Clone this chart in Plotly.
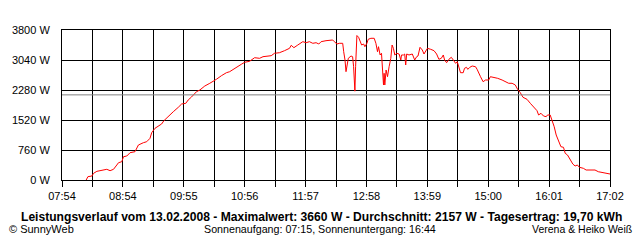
import plotly.graph_objects as go

# ---- data ----
# time in minutes after midnight, power in W
times = [498.2, 499.9, 503.9, 505.6, 508.9, 513.9, 518.8, 522.1, 525.5, 528.8,
         530.5, 533.8, 535.5, 538.8, 542.1, 547.0, 550.4, 555.4, 558.7, 562.0,
         563.7, 567.0, 570.3, 573.6, 575.9, 580.3, 585.3, 590.3, 593.6, 597.8,
         600.2, 603.5, 606.5, 608.5, 611.8, 616.8, 621.8, 625.1, 628.4, 633.4,
         638.4, 641.7, 645.1, 650.1, 653.3, 656.6, 661.6, 666.6, 671.6, 675.0,
         679.9, 683.2, 686.5, 691.5, 696.5, 701.5, 703.2, 705.9, 709.8, 714.8,
         718.1, 721.4, 724.8, 728.1, 730.8, 733.1, 738.0, 744.7, 746.3, 749.0,
         751.3, 754.7, 755.7, 757.0, 758.0, 759.0, 760.3, 763.0, 764.6, 765.6,
         766.2, 766.9, 767.6, 768.2, 768.9, 770.6, 772.2, 773.6, 775.6, 776.9,
         778.9, 780.2, 782.9, 786.2, 787.9, 789.5, 790.5, 792.1, 793.5, 794.5,
         795.5, 796.1, 796.8, 798.1, 799.5, 801.1, 802.8, 804.1, 805.4, 806.8,
         808.8, 811.1, 812.8, 813.5, 815.5, 816.7, 817.7, 818.7, 821.0, 824.3,
         826.7, 828.7, 830.0, 832.0, 834.3, 836.0, 837.7, 839.4, 842.7, 846.0,
         848.6, 850.9, 853.3, 855.3, 856.6, 858.6, 860.9, 863.3, 865.3, 867.6,
         869.3, 870.9, 872.5, 875.2, 876.5, 878.5, 879.8, 881.8, 884.2, 887.5,
         889.1, 892.5, 895.1, 897.5, 900.7, 902.4, 905.7, 909.7, 914.1, 917.4,
         920.7, 924.1, 927.3, 929.6, 931.6, 932.3, 935.0, 939.0, 942.3, 945.6,
         949.0, 950.6, 953.0, 955.5, 958.2, 959.5, 962.2, 963.9, 966.2, 968.2,
         970.5, 972.9, 975.5, 977.2, 979.5, 982.1, 984.8, 987.1, 989.4, 991.4,
         995.4, 998.1, 1007.0, 1010.3, 1017.0, 1020.3, 1022.0]
power = [0, 84, 101, 170, 220, 236, 271, 236, 271, 380,
         438, 464, 590, 608, 692, 717, 887, 945, 970, 1056,
         1198, 1310, 1368, 1419, 1502, 1621, 1730, 1842, 1925, 1943,
         2027, 2103, 2191, 2237, 2280, 2381, 2450, 2490, 2551, 2642,
         2718, 2744, 2804, 2870, 2931, 2982, 3007, 3098, 3083, 3124,
         3149, 3149, 3210, 3225, 3276, 3336, 3412, 3352, 3420, 3504,
         3478, 3504, 3463, 3478, 3445, 3504, 3529, 3547, 3504, 3445,
         3463, 3463, 3250, 3040, 2744, 2956, 3083, 3141, 3124, 2870,
         2617, 2250, 2870, 3293, 3660, 3615, 3504, 3420, 3445, 3377,
         3463, 3564, 3590, 3590, 3463, 3250, 3377, 3167, 3210, 2703,
         2407, 2703, 2407, 2787, 2617, 2870, 3083, 3420, 3336, 3167,
         3210, 3192, 3040, 3167, 3167, 3192, 2913, 3192, 3167, 3192,
         3040, 3124, 3141, 3362, 3293, 3192, 3250, 3336, 3311, 3276,
         3192, 3058, 3083, 3167, 3040, 2972, 3058, 3108, 3040, 2956,
         2997, 2870, 2718, 2718, 2830, 2855, 2804, 2855, 2888, 2870,
         2804, 2617, 2490, 2533, 2533, 2617, 2602, 2576, 2533, 2490,
         2450, 2450, 2407, 2298, 2237, 2212, 2095, 2044, 1943, 1857,
         1756, 1647, 1690, 1621, 1604, 1647, 1647, 1520, 1350, 1140,
         1013, 844, 828, 676, 633, 507, 405, 355, 380, 322,
         296, 253, 253, 210, 185, 170, 152]

x_start, x_end = 474, 1022          # 07:54 .. 17:02
x_tick_labels = ["07:54", "08:54", "09:55", "10:56", "11:57",
                 "12:58", "13:59", "15:00", "16:01", "17:02"]
y_ticks = [0, 760, 1520, 2280, 3040, 3800]
y_tick_labels = ["0 W", "760 W", "1520 W", "2280 W", "3040 W", "3800 W"]

date_str = "13.02.2008"
max_w = 3660
avg_w = 2157
yield_kwh = "19,70"
sunrise, sunset = "07:15", "16:44"

# ---- figure ----
n_int = 18
x_tickvals = [x_start + k * (x_end - x_start) / n_int for k in range(n_int + 1)]
x_ticktext = [x_tick_labels[k // 2] if k % 2 == 0 else "" for k in range(n_int + 1)]

FONT = "Liberation Sans, Arial, sans-serif"

fig = go.Figure()
fig.add_trace(go.Scatter(x=times, y=power, mode="lines",
                         line=dict(color="#ff0000", width=1),
                         hoverinfo="skip", showlegend=False))

fig.add_shape(type="line", xref="paper", x0=0, x1=1, yref="y", y0=avg_w, y1=avg_w,
              line=dict(color="#808080", width=1), layer="above")

fig.update_layout(
    width=640, height=240,
    margin=dict(l=60, r=30, t=30, b=60),
    paper_bgcolor="white", plot_bgcolor="white",
    font=dict(family=FONT, size=11, color="black"),
    showlegend=False,
)
fig.update_xaxes(range=[x_start, x_end], tickmode="array",
                 tickvals=x_tickvals, ticktext=x_ticktext,
                 showgrid=True, gridcolor="black", gridwidth=1,
                 showline=True, mirror=True, linecolor="black", linewidth=1,
                 ticks="outside", ticklen=6, tickcolor="black", tickwidth=1,
                 zeroline=False, tickfont=dict(size=11))
fig.update_yaxes(range=[0, 3800], tickmode="array",
                 tickvals=y_ticks, ticktext=y_tick_labels,
                 showgrid=True, gridcolor="black", gridwidth=1,
                 showline=True, mirror=True, linecolor="black", linewidth=1,
                 ticks="", ticklabelstandoff=9, zeroline=False,
                 tickfont=dict(size=11))

title = (f"Leistungsverlauf vom {date_str} - Maximalwert: {max_w} W - "
         f"Durchschnitt: {avg_w} W - Tagesertrag: {yield_kwh} kWh")
fig.add_annotation(text=f"<b>{title}</b>", xref="paper", yref="paper",
                   x=(320 - 60) / 550, y=(180 - 216.7) / 150,
                   xanchor="center", yanchor="middle", showarrow=False,
                   font=dict(size=12.1))
fig.add_annotation(text="© SunnyWeb", xref="paper", yref="paper",
                   x=(5 - 60) / 550, y=(180 - 228.5) / 150,
                   xanchor="left", yanchor="middle", showarrow=False,
                   font=dict(size=11))
fig.add_annotation(text=f"Sonnenaufgang: {sunrise}, Sonnenuntergang: {sunset}",
                   xref="paper", yref="paper",
                   x=(319 - 60) / 550, y=(180 - 228.5) / 150,
                   xanchor="center", yanchor="middle", showarrow=False,
                   font=dict(size=10.7))
fig.add_annotation(text="Verena &amp; Heiko Weiß", xref="paper", yref="paper",
                   x=(634 - 60) / 550, y=(180 - 228.5) / 150,
                   xanchor="right", yanchor="middle", showarrow=False,
                   font=dict(size=10.5))

fig.write_html("out.html")
